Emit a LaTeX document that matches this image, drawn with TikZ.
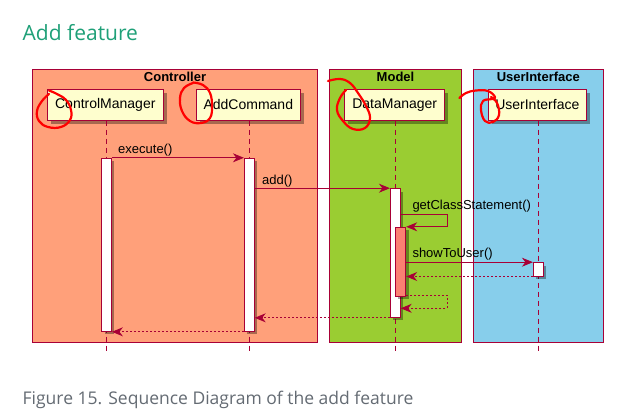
\documentclass[tikz,border=0pt]{standalone}
\usepackage{fontspec}
\setmainfont{Liberation Sans}
\newfontfamily\osans{Open Sans}
\usetikzlibrary{arrows.meta,shadows}
\definecolor{pborder}{HTML}{A80036}
\definecolor{partfill}{HTML}{FEFECE}
\definecolor{ctrlcol}{HTML}{FFA07A}
\definecolor{modelcol}{HTML}{9ACD32}
\definecolor{uicol}{HTML}{87CEEB}
\definecolor{nestcol}{HTML}{FA8072}
\definecolor{titlegreen}{HTML}{1FA078}
\definecolor{capgrey}{HTML}{646B73}
\tikzset{
  pkg/.style={draw=pborder, line width=1pt},
  pkgtitle/.style={anchor=base, inner sep=0, font=\bfseries\fontsize{13}{15}\selectfont},
  part/.style={draw=pborder, fill=partfill, line width=1pt, minimum height=30.7pt, inner sep=0,
    font=\fontsize{14}{16}\selectfont,
    drop shadow={shadow xshift=3.5pt, shadow yshift=-3.5pt, fill=black, opacity=0.35}},
  lifeline/.style={draw=pborder, line width=0.8pt, dash pattern=on 5pt off 4pt},
  act/.style={draw=pborder, fill=white, line width=1pt, minimum width=9.8pt, inner sep=0,
    drop shadow={shadow xshift=3pt, shadow yshift=-3pt, fill=black, opacity=0.35}},
  msg/.style={draw=pborder, line width=0.9pt, -{Stealth[length=11pt,width=9pt,inset=3.5pt]}},
  ret/.style={msg, dash pattern=on 2pt off 2pt},
  msglabel/.style={anchor=base west, inner sep=0, font=\fontsize{13}{15}\selectfont},
  scribble/.style={draw=red, line width=2.2pt, line cap=round, line join=round}
}
\begin{document}
\begin{tikzpicture}[x=1pt,y=-1pt]
\useasboundingbox (0,0) rectangle (644,418);
\fill[white] (0,0) rectangle (644,418);

% heading and caption
\node[anchor=base west, inner sep=0, text=titlegreen, font=\osans\fontsize{21}{24}\selectfont] (title) at (22.5,40) {Add feature};
\node[anchor=base west, inner sep=0, text=capgrey, font=\osans\fontsize{17.5}{20}\selectfont] (caption) at (22.5,404) {Figure 15. Sequence Diagram of the add feature};

% packages
\draw[pkg, fill=ctrlcol] (32.7,69.3) rectangle (317.3,342.7);
\draw[pkg, fill=modelcol] (329.3,69.3) rectangle (461.7,342.7);
\draw[pkg, fill=uicol] (473.3,69.3) rectangle (603.3,342.7);
\node[pkgtitle] (tctrl) at (175,81.7) {Controller};
\node[pkgtitle] (tmodel) at (395.5,81.7) {Model};
\node[pkgtitle] (tui) at (538.3,81.7) {UserInterface};

% participants
\node[part, minimum width=116.5pt] (cm) at (105.3,104.7) {ControlManager};
\node[part, minimum width=103.5pt] (ac) at (248.3,104.7) {AddCommand};
\node[part, minimum width=99.8pt] (dm) at (394.7,104.7) {DataManager};
\node[part, minimum width=97.7pt] (ui) at (537.3,104.7) {UserInterface};

% lifelines
\coordinate (cmend) at (106.3,351);
\coordinate (acend) at (249.3,351);
\coordinate (dmend) at (395.7,351);
\coordinate (uiend) at (538.3,351);
\draw[lifeline] (cm.south -| cmend) -- (cmend);
\draw[lifeline] (ac.south -| acend) -- (acend);
\draw[lifeline] (dm.south -| dmend) -- (dmend);
\draw[lifeline] (ui.south -| uiend) -- (uiend);

% activations
\node[act, minimum height=173pt] (a1) at (106.5,244.8) {};
\node[act, minimum height=173pt] (a2) at (249.3,244.8) {};
\node[act, minimum height=128.6pt] (a3) at (395.3,253) {};
\node[act, fill=nestcol, minimum width=10.4pt, minimum height=68.7pt] (a4) at (400.5,261.65) {};
\node[act, minimum height=13.3pt] (a5) at (538.3,269.35) {};

% messages
\draw[msg] (a1.north east) -- (a2.north west);
\node[msglabel] (lexec) at (118,153) {execute()};
\draw[msg] (a2.east |- a3.north) -- (a3.north west);
\node[msglabel] (ladd) at (262,184) {add()};
\coordinate (gcs1) at (447.3,214.3);
\draw[msg] (a3.east |- gcs1) -- (gcs1) |- (a4.north east);
\node[msglabel] (lgcs) at (412.3,209) {getClassStatement()};
\draw[msg] (a4.east |- a5.north) -- (a5.north west);
\node[msglabel] (lshow) at (412.3,257.5) {showToUser()};
\draw[ret] (a5.south west) -- (a4.east |- a5.south);
\coordinate (sr1) at (447.3,295.3);
\coordinate (sr2) at (447.3,308.3);
\draw[ret] (a4.east |- sr1) -- (sr1) -- (sr2) -- (a3.east |- sr2);
\draw[ret] (a3.south west) -- (a2.east |- a3.south);
\draw[ret] (a2.south west) -- (a1.south east);

% red hand-drawn marks
\draw[scribble] plot[smooth, tension=0.7] coordinates {(49,90.5) (57,94) (66,100) (71,110) (70,120) (61,127) (48,127) (39,121) (37,111) (42,101) (49,94)};
\draw[scribble] plot[smooth, tension=0.7] coordinates {(193,82.5) (203,85) (210,93) (212,106) (210,118) (201,123) (190,121) (182,111) (180,98) (184,88) (193,83)};
\draw[scribble] plot[smooth, tension=0.7] coordinates {(328,81) (340,79) (350,83) (358,93) (366,106) (370,118) (365,128) (353,129) (343,121) (337,110) (340,98) (346,90)};
\draw[scribble] plot[smooth, tension=0.7] coordinates {(459.5,98) (466,93) (476,90.5) (488,91) (495,97) (492,99) (483,101) (481,110) (485,121) (493,122) (499,115) (497,103) (491,97)};
\end{tikzpicture}
\end{document}
